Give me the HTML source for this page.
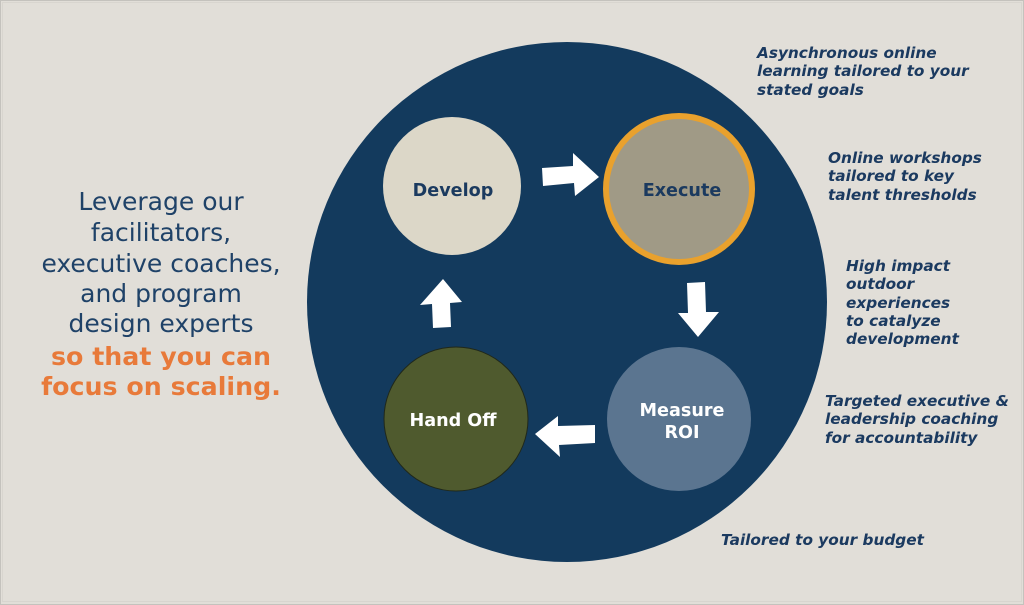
<!DOCTYPE html>
<html><head><meta charset="utf-8"><style>
html,body{margin:0;padding:0;background:#e1ded8;}
svg{display:block;}
</style></head><body>
<svg width="1024" height="605" viewBox="0 0 1024 605" xmlns="http://www.w3.org/2000/svg">
<rect x="0" y="0" width="1024" height="605" fill="#e1ded8"/>
<rect x="0.5" y="0.5" width="1023" height="604" fill="none" stroke="#c4c2bd" stroke-width="1"/>
<rect x="2.5" y="2.5" width="1019" height="599" fill="none" stroke="#d8d5cf" stroke-width="1"/>
<circle cx="567" cy="302" r="260" fill="#133a5d"/>

<!-- nodes -->
<circle cx="452" cy="186" r="69" fill="#dcd7c8"/>
<circle cx="679" cy="189" r="73" fill="#a09a86" stroke="#e9a12d" stroke-width="6"/>
<circle cx="456" cy="419" r="72" fill="#4f5a2e" stroke="#20281a" stroke-width="1"/>
<circle cx="679" cy="419" r="72" fill="#5b7590"/>

<!-- arrows -->
<g fill="#ffffff">
  <polygon points="542,168 573,166 573,153 599,177 575,196 574,183 543,186"/>
  <polygon points="687,283 705,282 706,312 719,312 698,337 678,313 688,313"/>
  <polygon points="595,425 595,443 559,445 560,457 535,434 558,416 558,426"/>
  <polygon points="433,328 451,327 450,303 462,302 443,279 420,305 432,304"/>
</g>

<!-- node labels -->
<g font-family="'DejaVu Sans','Liberation Sans',sans-serif" font-weight="bold" font-size="17.6" text-anchor="middle">
  <text x="453" y="196" fill="#1b3a5f">Develop</text>
  <text x="682" y="196" fill="#1b3a5f">Execute</text>
  <text x="453" y="426" fill="#ffffff">Hand Off</text>
  <text x="682" y="416" fill="#ffffff">Measure</text>
  <text x="682" y="438" fill="#ffffff">ROI</text>
</g>

<!-- left text -->
<g font-family="'DejaVu Sans','Liberation Sans',sans-serif" font-size="25" text-anchor="middle" fill="#1f4268">
  <text x="161" y="210">Leverage our</text>
  <text x="161" y="241">facilitators,</text>
  <text x="161" y="272">executive coaches,</text>
  <text x="161" y="302">and program</text>
  <text x="161" y="332">design experts</text>
  <text x="161" y="365" fill="#e87a3a" font-weight="bold" font-size="25.3">so that you can</text>
  <text x="161" y="395" fill="#e87a3a" font-weight="bold" font-size="25.3">focus on scaling.</text>
</g>

<!-- right text -->
<g font-family="'DejaVu Sans','Liberation Sans',sans-serif" font-size="15.3" font-weight="bold" font-style="italic" fill="#1b3a60">
  <text x="757" y="58">Asynchronous online</text>
  <text x="757" y="76">learning tailored to your</text>
  <text x="757" y="95">stated goals</text>
  <text x="828" y="163">Online workshops</text>
  <text x="828" y="181">tailored to key</text>
  <text x="828" y="200">talent thresholds</text>
  <text x="846" y="271">High impact</text>
  <text x="846" y="289">outdoor</text>
  <text x="846" y="308">experiences</text>
  <text x="846" y="326">to catalyze</text>
  <text x="846" y="344">development</text>
  <text x="825" y="406">Targeted executive &amp;</text>
  <text x="825" y="424">leadership coaching</text>
  <text x="825" y="443">for accountability</text>
  <text x="721" y="545">Tailored to your budget</text>
</g>
</svg>
</body></html>
